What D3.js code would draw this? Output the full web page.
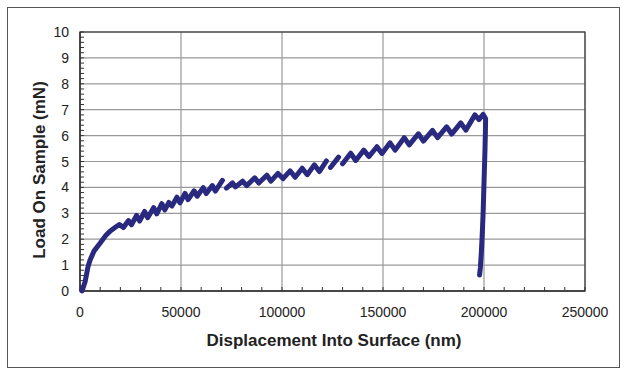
<!DOCTYPE html>
<html>
<head>
<meta charset="utf-8">
<script src="https://cdn.jsdelivr.net/npm/d3@7"></script>
<style>
  body { margin: 0; background: #fff; }
  svg { display: block; font-family: "Liberation Sans", Arial, sans-serif; }
  .tick-label { font-size: 14px; fill: #222; }
  .title { font-size: 17px; font-weight: bold; fill: #222; }
</style>
</head>
<body>
<svg width="627" height="371"></svg>
<script>
// displacement (nm) and load (mN); null marks a gap in the trace
const displacement = [
  1000, 2500, 4000, 5000, 7000, 10000, 12500, 15000, 17500, 19500,
  21500, 24000, 25500, 28000, 29500, 32000, 33500, 36500, 38000, 40500,
  42000, 44000, 44500, 45500, 48000, 49500, 52000, 53500, 56500, 58000,
  61000, 62500, 65500, 67000, 70500, 71000, 72500, 75500, 77000, 80500,
  82500, 86500, 88500, 92500, 94500, 98000, 100500, 104000, 106500, 110000,
  112500, 116000, 118500, 122000, 123000, 124000, 128000, 129000, 130000, 134000,
  136500, 140500, 143000, 147000, 149500, 153500, 156000, 160500, 163000, 167500,
  170000, 174500, 177000, 181500, 184000, 188500, 191000, 195500, 197500, 199600,
  200800, 200700, 200500, 200200, 199900, 199600, 199200, 198700, 198200, 197800
];
const load = [
  0, 0.35, 0.95, 1.2, 1.55, 1.85, 2.12, 2.32, 2.46, 2.57,
  2.45, 2.72, 2.56, 2.92, 2.7, 3.07, 2.83, 3.22, 2.98, 3.37,
  3.13, 3.42, null, 3.28, 3.62, 3.4, 3.77, 3.53, 3.87, 3.66,
  3.99, 3.76, 4.07, 3.86, 4.27, null, 3.97, 4.17, 4.02, 4.24,
  4.07, 4.37, 4.17, 4.47, 4.24, 4.54, 4.34, 4.64, 4.39, 4.74,
  4.49, 4.87, 4.61, 5.02, null, 4.77, 5.17, null, 4.91, 5.32,
  5.04, 5.44, 5.19, 5.57, 5.31, 5.72, 5.44, 5.92, 5.64, 6.07,
  5.79, 6.2, 5.92, 6.34, 6.06, 6.49, 6.21, 6.8, 6.62, 6.82,
  6.65, 6.2, 5.5, 4.7, 3.9, 3.1, 2.3, 1.5, 0.9, 0.62
];
const xTicks = [0, 50000, 100000, 150000, 200000, 250000];
const yTicks = [0, 1, 2, 3, 4, 5, 6, 7, 8, 9, 10];
const xMinor = d3.range(0, 250001, 10000);
const yMinor = d3.range(0, 10.001, 0.2);

const svg = d3.select("svg");

const x = d3.scaleLinear().domain([0, 250000]).range([80, 585]);
const y = d3.scaleLinear().domain([0, 10]).range([291, 32]);

// outer frame
svg.append("rect")
  .attr("x", 7.5).attr("y", 7.5)
  .attr("width", 612).attr("height", 360)
  .attr("fill", "none")
  .attr("stroke", "#555")
  .attr("stroke-width", 1);

// grid
svg.append("g")
  .selectAll("line.hgrid")
  .data(yTicks.slice(1))
  .enter()
  .append("line")
  .attr("x1", x(0)).attr("x2", x(250000))
  .attr("y1", d => y(d)).attr("y2", d => y(d))
  .attr("stroke", "#999").attr("stroke-width", 1.2);

svg.append("g")
  .selectAll("line.vgrid")
  .data(xTicks.slice(1))
  .enter()
  .append("line")
  .attr("x1", d => x(d)).attr("x2", d => x(d))
  .attr("y1", y(0)).attr("y2", y(10))
  .attr("stroke", "#999").attr("stroke-width", 1.2);

// plot frame
svg.append("rect")
  .attr("x", x(0)).attr("y", y(10))
  .attr("width", x(250000) - x(0)).attr("height", y(0) - y(10))
  .attr("fill", "none")
  .attr("stroke", "#444")
  .attr("stroke-width", 1.3);

// minor ticks
svg.append("g")
  .selectAll("line")
  .data(yMinor)
  .enter()
  .append("line")
  .attr("x1", x(0)).attr("x2", x(0) + 4)
  .attr("y1", d => y(d)).attr("y2", d => y(d))
  .attr("stroke", "#333").attr("stroke-width", 1);

svg.append("g")
  .selectAll("line")
  .data(xMinor)
  .enter()
  .append("line")
  .attr("x1", d => x(d)).attr("x2", d => x(d))
  .attr("y1", y(0)).attr("y2", y(0) - 4)
  .attr("stroke", "#333").attr("stroke-width", 1);

// axis lines
svg.append("line")
  .attr("x1", x(0)).attr("x2", x(250000))
  .attr("y1", y(0)).attr("y2", y(0))
  .attr("stroke", "#333").attr("stroke-width", 1.5);
svg.append("line")
  .attr("x1", x(0)).attr("x2", x(0))
  .attr("y1", y(0)).attr("y2", y(10))
  .attr("stroke", "#333").attr("stroke-width", 1.5);

// tick labels
svg.append("g")
  .selectAll("text")
  .data(yTicks)
  .enter()
  .append("text")
  .attr("class", "tick-label")
  .attr("x", 69)
  .attr("y", d => y(d) + 5)
  .attr("text-anchor", "end")
  .text(d => d);

svg.append("g")
  .selectAll("text")
  .data(xTicks)
  .enter()
  .append("text")
  .attr("class", "tick-label")
  .attr("x", d => x(d))
  .attr("y", 317)
  .attr("text-anchor", "middle")
  .text(d => d);

// axis titles
svg.append("text")
  .attr("class", "title")
  .attr("x", 334)
  .attr("y", 346)
  .attr("text-anchor", "middle")
  .text("Displacement Into Surface (nm)");

svg.append("text")
  .attr("class", "title")
  .attr("transform", "translate(45, 170) rotate(-90)")
  .attr("text-anchor", "middle")
  .text("Load On Sample (mN)");

// data trace
const points = displacement.map((d, i) => ({ d: d, l: load[i] }));

const lineGenerator = d3.line()
  .defined(p => p.l !== null)
  .x(p => x(p.d))
  .y(p => y(p.l));

svg.append("path")
  .datum(points)
  .attr("d", lineGenerator)
  .attr("fill", "none")
  .attr("stroke", "#28297f")
  .attr("stroke-width", 5)
  .attr("stroke-linejoin", "round")
  .attr("stroke-linecap", "round");
</script>
</body>
</html>
